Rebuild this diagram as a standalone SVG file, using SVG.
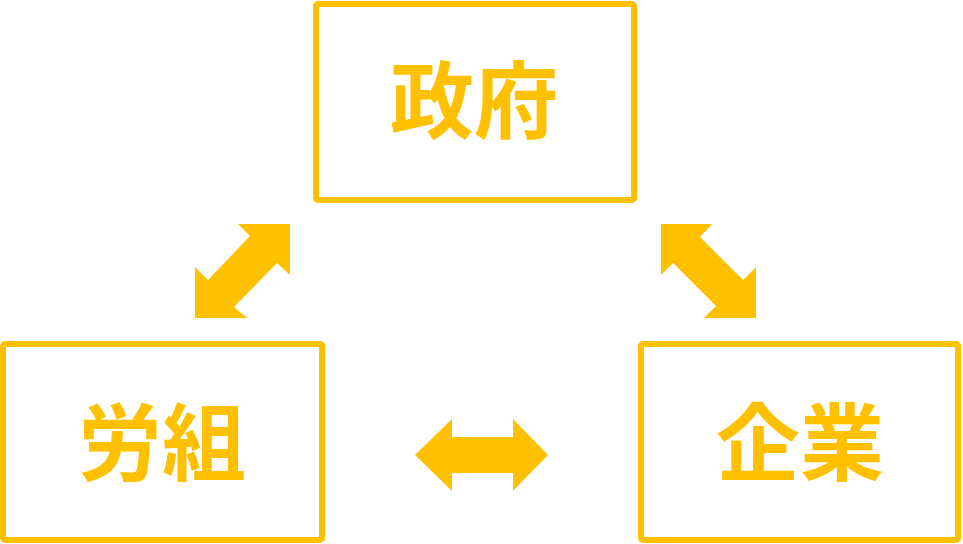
<svg xmlns="http://www.w3.org/2000/svg" width="963" height="544" viewBox="0 0 963 544">
<style>
.box{fill:#FFFFFF;stroke:#FFC000;stroke-width:6;}
.lbl{font-family:"Noto Sans CJK JP","Noto Sans CJK SC",sans-serif;font-weight:700;font-size:84px;fill:#FFC000;text-anchor:middle;}
.arr{fill:#FFC000;stroke:none;}
</style>
<rect width="963" height="544" fill="#FFFFFF"/>
<g id="node-government">
<rect class="box" x="316" y="4" width="318" height="196" rx="2"/>
<text class="lbl" x="474" y="132">政府</text>
</g>
<g id="node-union">
<rect class="box" x="3" y="344" width="319" height="196" rx="2"/>
<text class="lbl" x="162" y="474">労組</text>
</g>
<g id="node-company">
<rect class="box" x="641" y="344" width="317" height="196" rx="2"/>
<text class="lbl" x="800" y="474">企業</text>
</g>
<g id="connectors">
<polygon class="arr" points="290,224 290,275 277,263 234,307 247,318 195,318 195,267 208,280 250,236 238,224"/>
<polygon class="arr" points="661,224 712,224 700,237 743,280 756,267 756,318 704,318 716,306 673,263 661,275"/>
<polygon class="arr" points="415,455 452,419 452,437 513,437 513,419 548,455 513,491 513,473 452,473 452,491"/>
</g>
</svg>
